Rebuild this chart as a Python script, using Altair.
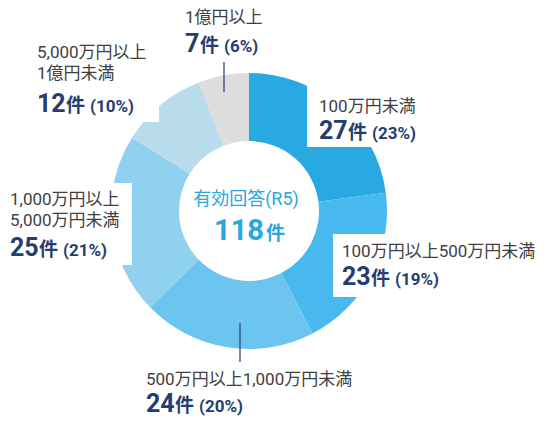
import altair as alt
import pandas as pd

# ---- data ----
categories = [
    "100万円未満",
    "100万円以上500万円未満",
    "500万円以上1,000万円未満",
    "1,000万円以上5,000万円未満",
    "5,000万円以上1億円未満",
    "1億円以上",
]
label_lines = [
    ["100万円未満"],
    ["100万円以上500万円未満"],
    ["500万円以上1,000万円未満"],
    ["1,000万円以上", "5,000万円未満"],
    ["5,000万円以上", "1億円未満"],
    ["1億円以上"],
]
counts = [27, 23, 24, 25, 12, 7]
percents = [23, 19, 20, 21, 10, 6]
center_title = "有効回答(R5)"
total = 118
unit = "件"

# ---- styles / layout ----
colors = ["#29A9E1", "#47B9EF", "#6CC5EF", "#90D1EF", "#B9DCEC", "#DDDDDD"]
NAVY = "#263E6E"
GRAY = "#404040"
CENTER_BLUE = "#2AA7DF"
FONT = "Roboto, 'Noto Sans CJK JP', sans-serif"
M = 8  # page margin
W, H = 532, 410
CX, CY = 249, 211
R_OUT, R_IN = 138, 70
CAT_SIZE, NUM_SIZE, KEN_SIZE, PCT_SIZE = 17, 25, 19, 17
DIGIT_W = 0.5615 * NUM_SIZE
LINE_H = 21

# label anchors in page pixels: (x, first category baseline, number baseline)
anchors = [
    (319, 112, 139),
    (342, 257, 285),
    (146, 385, 412),
    (10, 205, 256),
    (37, 58, 112),
    (185, 23, 52),
]
# white label boxes (x0, x1, y0, y1) in page pixels
boxes = [
    (307, 470, 85, 147),
    (333, 548, 234, 297),
    (0, 132, 183, 265),
    (0, 159, 30, 122),
]
# leader lines (x, y0, y1)
leaders = [(224, 62, 92), (240, 323, 362)]

# ---- tables ----
pie_df = pd.DataFrame({"category": categories, "count": counts, "idx": list(range(len(categories)))})

cat_rows, num_rows, ken_rows, pct_rows = [], [], [], []
for i, (lines, c, p) in enumerate(zip(label_lines, counts, percents)):
    ax, ay, ny = anchors[i]
    for j, t in enumerate(lines):
        cat_rows.append({"t": t, "x": ax - M, "y": ay - M + j * LINE_H})
    nx = ax - M
    num_rows.append({"t": str(c), "x": nx, "y": ny - M})
    kx = nx + len(str(c)) * DIGIT_W + 1
    ken_rows.append({"t": unit, "x": kx, "y": ny - M})
    pct_rows.append({"t": f"({p}%)", "x": kx + KEN_SIZE + 5, "y": ny - M})

box_df = pd.DataFrame([{"x0": a - M, "x1": b - M, "y0": c - M, "y1": d - M} for a, b, c, d in boxes])
lead_df = pd.DataFrame([{"x": x - M, "y0": a - M, "y1": b - M} for x, a, b in leaders])

px = lambda f: alt.X(f, scale=None, axis=None)
py = lambda f: alt.Y(f, scale=None, axis=None)

arcs = alt.Chart(pie_df).mark_arc(outerRadius=R_OUT, innerRadius=R_IN, stroke=None).encode(
    theta=alt.Theta("count:Q", stack=True),
    order=alt.Order("idx:Q"),
    color=alt.Color("category:N", scale=alt.Scale(domain=categories, range=colors), legend=None),
    x=alt.value(CX - M),
    y=alt.value(CY - M),
)

rects = alt.Chart(box_df).mark_rect(color="white").encode(
    x=px("x0:Q"), x2="x1:Q", y=py("y0:Q"), y2="y1:Q"
)

leads = alt.Chart(lead_df).mark_rule(color=NAVY, strokeWidth=1.2).encode(
    x=px("x:Q"), y=py("y0:Q"), y2="y1:Q"
)

def txt(rows, size, color, weight, align="left"):
    return alt.Chart(pd.DataFrame(rows)).mark_text(
        font=FONT, fontSize=size, color=color, fontWeight=weight,
        align=align, baseline="alphabetic",
    ).encode(x=px("x:Q"), y=py("y:Q"), text="t:N")

cat_t = txt(cat_rows, CAT_SIZE, GRAY, "normal")
num_t = txt(num_rows, NUM_SIZE, NAVY, "bold")
ken_t = txt(ken_rows, KEN_SIZE, NAVY, "bold")
pct_t = txt(pct_rows, PCT_SIZE, NAVY, "bold")

center1 = txt([{"t": center_title, "x": 246 - M, "y": 205 - M}], 18, CENTER_BLUE, "normal", "center")
center_num = txt([{"t": str(total), "x": 264 - M, "y": 240 - M}], 29, CENTER_BLUE, "bold", "right")
center_ken = txt([{"t": unit, "x": 266 - M, "y": 240 - M}], 19, CENTER_BLUE, "bold", "left")

chart = alt.layer(
    arcs, rects, leads, cat_t, num_t, ken_t, pct_t, center1, center_num, center_ken
).properties(
    width=W, height=H, autosize=alt.AutoSizeParams(type="none"), padding=0
).configure_view(stroke=None)

chart.save("out.html", embed_options={"renderer": "svg", "actions": False})
